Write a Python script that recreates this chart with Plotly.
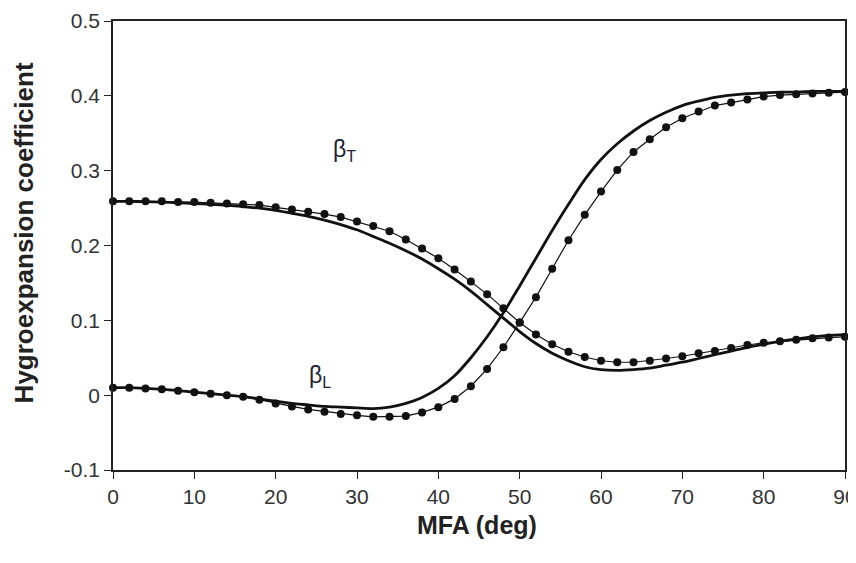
import plotly.graph_objects as go

# MFA angles (deg), every 2 degrees
mfa = list(range(0, 91, 2))

# beta_T : solid (model 1) and dotted-with-markers (model 2)
beta_t_solid = [0.259, 0.259, 0.2585, 0.258, 0.257, 0.256, 0.255, 0.254, 0.252, 0.250,
                0.247, 0.243, 0.239, 0.234, 0.228, 0.221, 0.212, 0.203, 0.193, 0.182,
                0.169, 0.155, 0.139, 0.121, 0.103, 0.085, 0.069, 0.056, 0.046, 0.038,
                0.034, 0.033, 0.034, 0.036, 0.040, 0.044, 0.049, 0.054, 0.059, 0.064,
                0.068, 0.072, 0.075, 0.078, 0.080, 0.081, 0.082, 0.083, 0.083, 0.083,
                0.083][:len(mfa)]
beta_t_dots = [0.259, 0.259, 0.259, 0.259, 0.258, 0.258, 0.257, 0.256, 0.255, 0.254,
               0.251, 0.248, 0.245, 0.242, 0.238, 0.232, 0.226, 0.219, 0.208, 0.196,
               0.183, 0.168, 0.152, 0.135, 0.116, 0.097, 0.081, 0.068, 0.058, 0.051,
               0.046, 0.044, 0.044, 0.046, 0.049, 0.052, 0.056, 0.059, 0.063, 0.067,
               0.070, 0.072, 0.074, 0.076, 0.077, 0.078]

# beta_L : solid and dotted-with-markers
beta_l_solid = [0.010, 0.010, 0.009, 0.008, 0.006, 0.004, 0.002, 0.000, -0.002, -0.005,
                -0.008, -0.011, -0.013, -0.015, -0.016, -0.017, -0.018, -0.016, -0.011, -0.003,
                0.009, 0.026, 0.050, 0.078, 0.110, 0.146, 0.183, 0.220, 0.255, 0.288,
                0.315, 0.336, 0.353, 0.367, 0.378, 0.387, 0.393, 0.398, 0.401, 0.403,
                0.404, 0.405, 0.405, 0.406, 0.406, 0.406]
beta_l_dots = [0.010, 0.010, 0.009, 0.008, 0.006, 0.004, 0.002, 0.000, -0.002, -0.006,
               -0.011, -0.015, -0.019, -0.022, -0.025, -0.027, -0.029, -0.029, -0.028, -0.023,
               -0.016, -0.005, 0.012, 0.035, 0.064, 0.097, 0.131, 0.169, 0.207, 0.241,
               0.272, 0.301, 0.325, 0.342, 0.358, 0.370, 0.379, 0.387, 0.391, 0.395,
               0.399, 0.401, 0.402, 0.403, 0.404, 0.405]

x_ticks = [0, 10, 20, 30, 40, 50, 60, 70, 80, 90]
y_ticks = [-0.1, 0, 0.1, 0.2, 0.3, 0.4, 0.5]
y_tick_labels = ["-0.1", "0", "0.1", "0.2", "0.3", "0.4", "0.5"]
x_title = "MFA (deg)"
y_title = "Hygroexpansion coefficient"

FONT = "Liberation Sans, Arial, Helvetica, sans-serif"

fig = go.Figure()
for ys in (beta_t_dots, beta_l_dots):
    fig.add_trace(go.Scatter(x=mfa, y=ys, mode="lines+markers",
                             line=dict(color="#111111", width=1.2),
                             marker=dict(color="#111111", size=8, symbol="circle"),
                             cliponaxis=False, showlegend=False))
for ys in (beta_t_solid, beta_l_solid):
    fig.add_trace(go.Scatter(x=mfa, y=ys, mode="lines",
                             line=dict(color="#111111", width=2.8, shape="spline", smoothing=0.8),
                             cliponaxis=False, showlegend=False))

fig.add_annotation(x=28.5, y=0.327, text="β<sub>T</sub>", showarrow=False,
                   font=dict(family=FONT, size=23, color="#222233"))
fig.add_annotation(x=25.5, y=0.025, text="β<sub>L</sub>", showarrow=False,
                   font=dict(family=FONT, size=23, color="#222233"))

# axis titles as paper annotations
fig.add_annotation(x=0.497, y=0, xref="paper", yref="paper", yshift=-55,
                   xanchor="center", yanchor="middle", showarrow=False,
                   text="<b>" + x_title + "</b>",
                   font=dict(family=FONT, size=25, color="#222222"))
fig.add_annotation(x=0, y=0.527, xref="paper", yref="paper", xshift=-89,
                   xanchor="center", yanchor="middle", showarrow=False, textangle=-90,
                   text="<b>" + y_title + "</b>",
                   font=dict(family=FONT, size=26, color="#222222"))

fig.update_layout(
    width=856, height=563,
    margin=dict(l=105, r=19, t=13, b=101, autoexpand=False),
    paper_bgcolor="white", plot_bgcolor="white",
    font=dict(family=FONT, size=20, color="#222222"),
)
fig.update_xaxes(range=[0, 90], tickvals=x_ticks, ticktext=[str(v) for v in x_ticks],
                 automargin=False,
                 showgrid=False, zeroline=False, showline=True, linecolor="#222222",
                 linewidth=1.5, mirror=True, ticks="outside", ticklen=7, tickwidth=1.3,
                 tickcolor="#222222", tickfont=dict(family=FONT, size=21, color="#333333"))
fig.update_yaxes(range=[-0.1, 0.5], tickvals=y_ticks, ticktext=y_tick_labels,
                 automargin=False,
                 showgrid=False, zeroline=False, showline=True, linecolor="#222222",
                 linewidth=1.5, mirror=True, ticks="outside", ticklen=7, tickwidth=1.3,
                 tickcolor="#222222", tickfont=dict(family=FONT, size=21, color="#333333"))

fig.write_html("out.html")
